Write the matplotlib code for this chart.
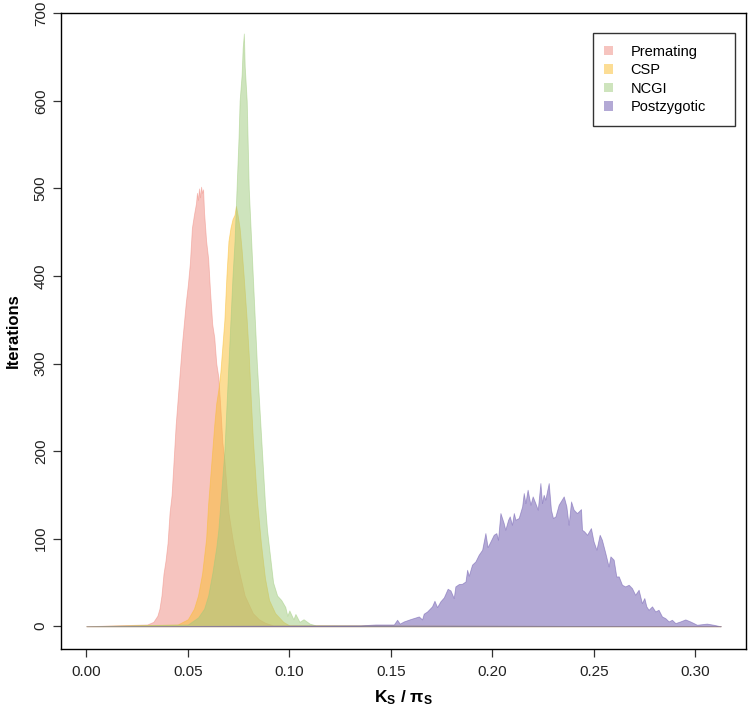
import numpy as np
import matplotlib
matplotlib.use("Agg")
import matplotlib.pyplot as plt
from matplotlib.patches import Patch

plt.rcParams['font.family'] = ['Liberation Sans', 'DejaVu Sans']
plt.rcParams['mathtext.fontset'] = 'custom'
plt.rcParams['mathtext.rm'] = 'Liberation Sans'
plt.rcParams['mathtext.bf'] = 'Liberation Sans:bold'
plt.rcParams['mathtext.it'] = 'Liberation Sans:italic'

# ---------------- data ----------------
x_range = [0.0, 0.3125]

premating_x = [0.030, 0.033, 0.035, 0.036, 0.037, 0.038, 0.039, 0.040, 0.041, 0.042,
               0.043, 0.044, 0.045, 0.046, 0.047, 0.048, 0.049, 0.050, 0.051, 0.052,
               0.053, 0.054, 0.0545, 0.055, 0.0555, 0.056, 0.0565, 0.057, 0.0575, 0.058,
               0.059, 0.060, 0.061, 0.062, 0.063, 0.064, 0.065, 0.066, 0.067, 0.068,
               0.069, 0.070, 0.072, 0.074, 0.076, 0.078, 0.080, 0.082, 0.085, 0.088, 0.092]
premating_y = [2, 5, 12, 20, 35, 60, 75, 95, 130, 150,
               190, 230, 260, 290, 320, 345, 370, 390, 415, 455,
               470, 483, 495, 487, 500, 490, 502, 495, 499, 472,
               440, 420, 380, 345, 330, 300, 285, 250, 210, 190,
               160, 130, 100, 75, 55, 35, 25, 15, 8, 4, 1]

csp_x = [0.045, 0.050, 0.053, 0.055, 0.057, 0.059, 0.060, 0.061, 0.062, 0.063,
         0.064, 0.065, 0.066, 0.067, 0.068, 0.069, 0.070, 0.071, 0.072, 0.073,
         0.0737, 0.0745, 0.0755, 0.0765, 0.0775, 0.079, 0.080, 0.081, 0.082, 0.084,
         0.086, 0.088, 0.090, 0.093, 0.097, 0.100]
csp_y = [2, 8, 20, 35, 60, 100, 140, 170, 200, 230,
         255, 270, 290, 320, 350, 400, 440, 455, 465, 470,
         480, 470, 455, 430, 400, 350, 310, 260, 215, 145,
         95, 55, 30, 15, 5, 1]

ncgi_x = [0.050, 0.055, 0.058, 0.060, 0.062, 0.064, 0.065, 0.066, 0.067, 0.068,
          0.069, 0.070, 0.071, 0.072, 0.073, 0.074, 0.075, 0.0755, 0.076, 0.0765,
          0.077, 0.0776, 0.078, 0.0785, 0.079, 0.080, 0.081, 0.082, 0.083, 0.084,
          0.085, 0.086, 0.087, 0.088, 0.089, 0.090, 0.091, 0.092, 0.094, 0.096,
          0.098, 0.099, 0.100, 0.102, 0.103, 0.105, 0.107, 0.110, 0.113]
ncgi_y = [2, 10, 20, 35, 60, 90, 110, 140, 170, 200,
          250, 300, 350, 400, 440, 500, 560, 600, 615, 630,
          660, 677, 640, 620, 600, 500, 450, 400, 350, 300,
          260, 220, 180, 140, 110, 90, 70, 50, 35, 30,
          22, 12, 18, 8, 14, 5, 8, 3, 1]

post_x = [0.1351, 0.1424, 0.1515, 0.1531, 0.1544, 0.1564, 0.1597, 0.1638, 0.1654, 0.1662,
          0.1679, 0.1703, 0.1715, 0.1728, 0.1744, 0.1761, 0.1780, 0.1794, 0.1810, 0.1818,
          0.1835, 0.1851, 0.1868, 0.1876, 0.1884, 0.1900, 0.1917, 0.1933, 0.1950, 0.1966,
          0.1977, 0.1991, 0.2007, 0.2020, 0.2028, 0.2040, 0.2056, 0.2064, 0.2078, 0.2086,
          0.2097, 0.2106, 0.2114, 0.2130, 0.2147, 0.2155, 0.2163, 0.2174, 0.2188, 0.2199,
          0.2212, 0.2224, 0.2237, 0.2245, 0.2253, 0.2261, 0.2278, 0.2289, 0.2299, 0.2311,
          0.2327, 0.2352, 0.2365, 0.2376, 0.2388, 0.2401, 0.2417, 0.2426, 0.2437, 0.2442,
          0.2453, 0.2467, 0.2486, 0.2499, 0.2513, 0.2529, 0.2540, 0.2557, 0.2573, 0.2582,
          0.2598, 0.2611, 0.2623, 0.2639, 0.2655, 0.2672, 0.2688, 0.2704, 0.2721, 0.2737,
          0.2749, 0.2759, 0.2770, 0.2787, 0.2803, 0.2819, 0.2836, 0.2852, 0.2869, 0.2885,
          0.2902, 0.2926, 0.2951, 0.2975, 0.2992, 0.3008, 0.3057, 0.3090, 0.3123]
post_y = [1, 2, 2, 7.4, 3, 5.5, 8.2, 11.2, 7.8, 14.3,
          16.9, 22.7, 29.1, 21.9, 28.4, 32.9, 42.8, 40.9, 32.2, 45.5,
          48.2, 48.5, 51.2, 64.5, 57.7, 70.3, 74.1, 81.7, 87.4, 106.4,
          90.4, 96.9, 104.5, 106.4, 98.8, 129.3, 117.9, 110.2, 121.7, 125.5,
          115.9, 129.3, 121.7, 123.6, 136.9, 152.1, 140.7, 155.9, 138.8, 148.3,
          140.7, 133.1, 163.5, 140.7, 150.2, 144.5, 163.5, 133.1, 123.6, 125.5,
          138.8, 148.3, 136.9, 115.9, 142.6, 133.1, 129.3, 131.2, 133.8, 110.2,
          108.3, 104.5, 112.1, 96.9, 87.4, 104.5, 98.8, 83.6, 68.3, 79.8,
          76.0, 56.9, 56.9, 47.4, 45.5, 47.4, 43.6, 36.0, 41.7, 26.5,
          32.2, 22.7, 18.8, 22.7, 16.9, 18.8, 11.2, 9.3, 5.5, 7.4,
          3.6, 5.5, 7.8, 5.5, 3.6, 1.7, 3, 1.7, 0]

series = [
    ("Premating", premating_x, premating_y, (239/255, 139/255, 129/255, 0.5)),
    ("CSP", csp_x, csp_y, (251/255, 189/255, 45/255, 0.5)),
    ("NCGI", ncgi_x, ncgi_y, (159/255, 203/255, 125/255, 0.5)),
    ("Postzygotic", post_x, post_y, (105/255, 85/255, 173/255, 0.5)),
]

x_ticks = [0.00, 0.05, 0.10, 0.15, 0.20, 0.25, 0.30]
y_ticks = [0, 100, 200, 300, 400, 500, 600, 700]

# ---------------- figure ----------------
W, H = 748, 714
fig = plt.figure(figsize=(W / 100, H / 100), dpi=100)
ax = fig.add_axes([61 / W, 1 - 649 / H, (746 - 61) / W, (649 - 12.5) / H])

for name, xs, ys, col in series:
    xx = np.concatenate([[x_range[0]], xs, [x_range[1]]])
    yy = np.concatenate([[0], ys, [0]])
    ax.fill_between(xx, 0, yy, facecolor=col, edgecolor=col, linewidth=0.6)

ax.set_xlim(-0.0125, 0.325)
ax.set_ylim(-26, 701)
ax.set_xticks(x_ticks)
ax.set_xticklabels([f"{t:.2f}" for t in x_ticks])
ax.set_yticks(y_ticks)
ax.set_yticklabels([str(t) for t in y_ticks], rotation=90, va='center')
ax.tick_params(axis='both', direction='out', length=5.5, width=0.9, color='#333333',
               labelsize=11, labelcolor='#222222')
ax.tick_params(axis='x', pad=6)
ax.tick_params(axis='y', pad=4)
for sp in ax.spines.values():
    sp.set_linewidth(1.0)
    sp.set_color('black')

ax.set_xlabel(r'$\mathbf{K_S}$ / $\mathbf{\pi_S}$', fontsize=12.5, fontweight='bold', labelpad=7)
ax.set_ylabel('Iterations', fontsize=12, fontweight='bold', labelpad=9)

handles = [Patch(facecolor=col, edgecolor='none', label=name) for name, _, _, col in series]
lx0, ly0, lx1 = 592.7, 33.3, 735
leg = fig.legend(handles=handles, loc='upper left', mode='expand',
                 bbox_to_anchor=(lx0 / W, 1 - ly0 / H, (lx1 - lx0) / W, 0.0001),
                 bbox_transform=fig.transFigure,
                 fontsize=10.5, frameon=True, fancybox=False, borderaxespad=0,
                 handlelength=0.6, handleheight=0.6, handletextpad=1.2,
                 labelspacing=0.3, borderpad=0.8)
leg.get_frame().set_edgecolor('black')
leg.get_frame().set_linewidth(1.0)

fig.savefig("out.png", dpi=100)
